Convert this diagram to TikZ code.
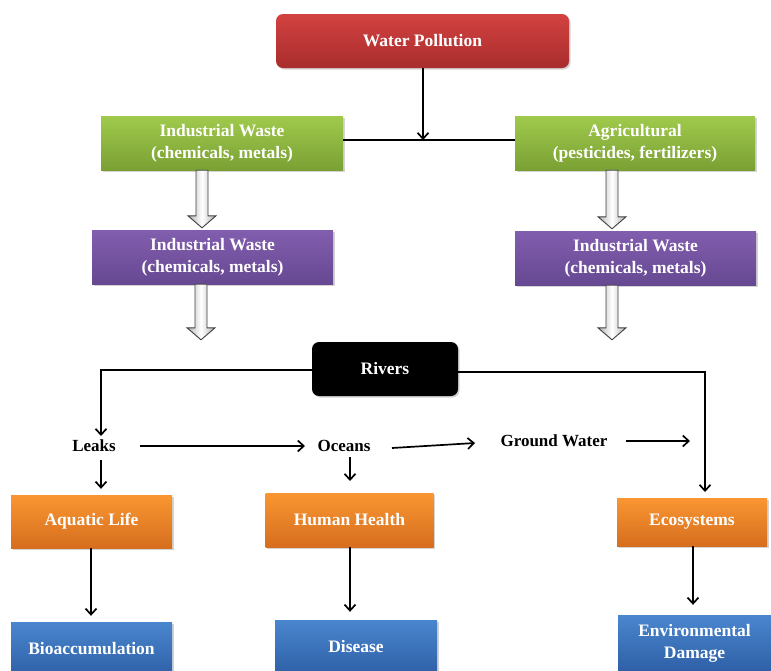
\documentclass[tikz,border=0pt]{standalone}
\usepackage{fontspec}
\setmainfont{Liberation Serif}
\usetikzlibrary{arrows.meta,shadows,calc}
\tikzset{
  box/.style={draw=none,text=white,font=\fontsize{17.5}{22}\selectfont\bfseries,align=center,inner sep=0pt,
    drop shadow={shadow xshift=1.5pt,shadow yshift=-1.5pt,opacity=0.35}},
  redbox/.style={box,rounded corners=7pt,
    top color={rgb,255:red,210;green,66;blue,64},bottom color={rgb,255:red,168;green,45;blue,45}},
  greenbox/.style={box,top color={rgb,255:red,160;green,202;blue,76},bottom color={rgb,255:red,122;green,160;blue,52}},
  purplebox/.style={box,top color={rgb,255:red,130;green,94;blue,174},bottom color={rgb,255:red,102;green,72;blue,146}},
  blackbox/.style={box,rounded corners=7pt,fill=black},
  orangebox/.style={box,top color={rgb,255:red,250;green,150;blue,50},bottom color={rgb,255:red,214;green,110;blue,30}},
  bluebox/.style={box,top color={rgb,255:red,74;green,134;blue,206},bottom color={rgb,255:red,46;green,96;blue,166}},
  lbl/.style={font=\fontsize{17}{20}\selectfont\bfseries,inner sep=1pt},
  arr/.style={draw=black,line width=1.7pt,-{Straight Barb[length=6pt,width=11pt]}},
  ln/.style={draw=black,line width=1.7pt},
  garr/.style={draw=black!75,line width=0.9pt,left color=black!30,right color=black!30,middle color=white}
}
\newcommand\grayarrow[3]{% x (pt), from node, to node
  \path[garr] let \p1=(#2.south), \p2=(#3.north) in
    ({#1pt-6pt},\y1) -- ({#1pt+6pt},\y1) -- ({#1pt+6pt},{\y2+14pt}) -- ({#1pt+14pt},{\y2+14pt})
    -- (#1pt,{\y2+2pt}) -- ({#1pt-14pt},{\y2+14pt}) -- ({#1pt-6pt},{\y2+14pt}) -- cycle;}
\begin{document}
\begin{tikzpicture}[x=1pt,y=-1pt]
\useasboundingbox (0,0) rectangle (771,670);
\clip (0,0) rectangle (771,670);
% boxes
\node[redbox,minimum width=293pt,minimum height=54pt] (wp) at (422.5,41) {Water Pollution};
\node[greenbox,minimum width=242pt,minimum height=54pt] (gl) at (222,143) {Industrial Waste\\(chemicals, metals)};
\node[greenbox,minimum width=240pt,minimum height=54pt] (gr) at (635,143) {Agricultural\\(pesticides, fertilizers)};
\node[purplebox,minimum width=241pt,minimum height=54pt] (pl) at (212.5,257) {Industrial Waste\\(chemicals, metals)};
\node[purplebox,minimum width=241pt,minimum height=54pt] (pr) at (635.5,258) {Industrial Waste\\(chemicals, metals)};
\node[blackbox,minimum width=146pt,minimum height=54pt] (rv) at (385,369) {Rivers};
\node[lbl] (leaks) at (94,446) {Leaks};
\node[lbl] (oceans) at (344,446) {Oceans};
\node[lbl] (gw) at (554,441) {Ground Water};
\node[orangebox,minimum width=161pt,minimum height=53pt] (aq) at (91.5,521.5) {Aquatic Life};
\node[orangebox,minimum width=168pt,minimum height=54pt] (hh) at (349.5,520) {Human Health};
\node[orangebox,minimum width=150pt,minimum height=48pt] (eco) at (692,522) {Ecosystems};
\node[bluebox,minimum width=161pt,minimum height=54pt] (bio) at (91.5,649) {Bioaccumulation};
\node[bluebox,minimum width=162pt,minimum height=54pt] (dis) at (356,647) {Disease};
\node[bluebox,minimum width=153pt,minimum height=56pt] (env) at (694.5,643) {Environmental\\Damage};
% connectors top
\coordinate (j) at (423,140);
\draw[ln] (gl.east |- j) -- (gr.west |- j);
\draw[arr] (wp.south -| j) -- (j);
\grayarrow{202}{gl}{pl}
\grayarrow{612}{gr}{pr}
\grayarrow{201}{pl}{rv}
\grayarrow{612}{pr}{rv}
% rivers branches
\coordinate (lk) at (101,436);
\coordinate (ek) at (705,492);
\draw[arr] (rv.west |- 0,370) -| (lk);
\draw[arr] (rv.east |- 0,372) -| (ek);
% middle row
\draw[arr] ($(leaks.center)+(46,0)$) -- ($(oceans.center)+(-39,0)$);
\draw[arr] ($(oceans.center)+(48,2)$) -- ($(gw.center)+(-79,2)$);
\draw[arr] ($(gw.center)+(72,0)$) -- ($(gw.center)+(136,0)$);
\draw[arr] ($(leaks.center)+(7,14)$) -- ($(aq.north)+(9.5,-6)$);
\draw[arr] ($(oceans.center)+(6,11)$) -- ($(oceans.center)+(6,35)$);
% bottom
\draw[arr] (aq.south -| 91,0) -- ($(bio.north -| 91,0)+(0,-6)$);
\draw[arr] (hh.south -| 350,0) -- ($(dis.north -| 350,0)+(0,-8)$);
\draw[arr] (eco.south -| 693,0) -- ($(env.north -| 693,0)+(0,-10)$);
\end{tikzpicture}
\end{document}
